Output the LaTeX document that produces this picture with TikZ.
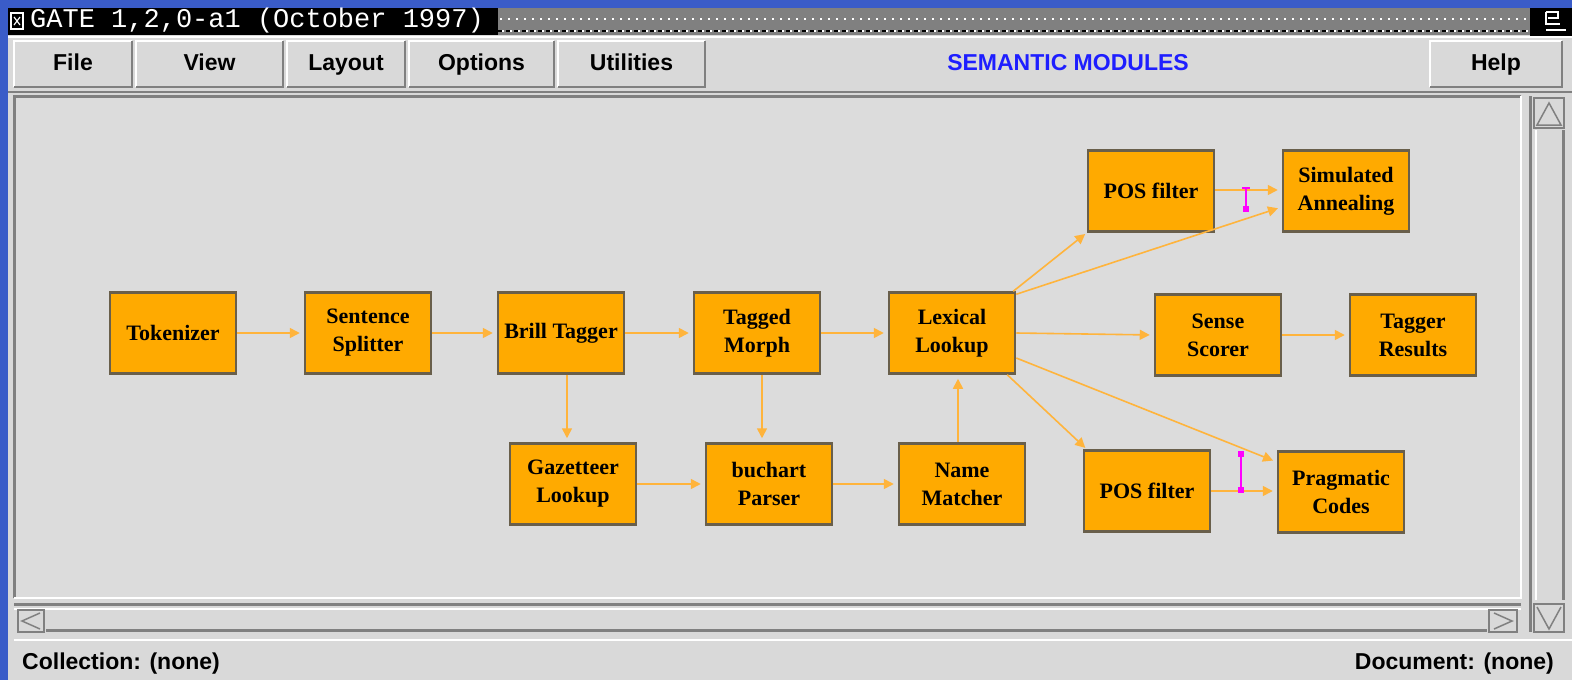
\documentclass[tikz,border=0pt]{standalone}
\usepackage{fontspec}
\setmainfont{Liberation Serif}
\setsansfont{Liberation Sans}
\setmonofont{Liberation Mono}
\usetikzlibrary{arrows.meta,calc}
\definecolor{bgblue}{RGB}{58,92,200}
\definecolor{chrome}{RGB}{217,217,217}
\definecolor{canvasbg}{RGB}{220,220,220}
\definecolor{modfill}{RGB}{255,170,0}
\definecolor{modline}{RGB}{105,95,75}
\definecolor{edgecol}{RGB}{255,180,60}
\definecolor{andcol}{RGB}{255,0,255}
\definecolor{shadowgray}{RGB}{128,128,128}
\definecolor{titleblue}{RGB}{30,30,255}
\begin{document}
\begin{tikzpicture}[x=1pt,y=-1pt,
  module/.style={draw=modline, line width=2.5pt, fill=modfill, minimum width=126pt,
    minimum height=81pt, inner sep=0pt, align=center,
    font=\bfseries\fontsize{22}{28}\selectfont},
  edge/.style={draw=edgecol, line width=1.6pt, -{Triangle[length=10pt,width=10pt]}, shorten >=4pt},
  menubtn/.style={fill=chrome, minimum height=46pt, inner sep=0pt, text height=17pt, text depth=5pt,
    font=\sffamily\bfseries\fontsize{23}{26}\selectfont},
  statustext/.style={inner sep=0pt, font=\sffamily\bfseries\fontsize{23}{26}\selectfont},
  andbar/.style={draw=andcol, line width=2pt},
]
\useasboundingbox (0,0) rectangle (1572,680);
\fill[bgblue] (0,0) rectangle (1572,680);
\fill[chrome] (8,34) rectangle (1572,680);

% title bar
\fill[black] (8,8) rectangle (498,35);
\fill[shadowgray] (498,8) rectangle (1530,35);
\draw[white, line width=2pt, dash pattern=on 2pt off 6pt] (500,19) -- (1528,19);
\draw[black, line width=2pt, dash pattern=on 4pt off 4pt] (498,31) -- (1528,31);
\draw[white, line width=2pt, dash pattern=on 2pt off 6pt] (502,31) -- (1528,31);
\fill[black] (1530,8) rectangle (1572,36);
\draw[white, line width=1.5pt] (11,13) rectangle (23,29);
\draw[white, line width=1.2pt] (14,17) -- (20,25) (20,17) -- (14,25);
\draw[white, line width=2pt] (1546,12) -- (1546,24) -- (1560,24) (1546,30) -- (1566,30) (1546,12) -- (1558,12) -- (1558,18) -- (1548,18);
\node[anchor=west, text=white, inner sep=0pt, font=\ttfamily\fontsize{27}{28}\selectfont] (title) at (30,21) {GATE 1,2,0-a1 (October 1997)};

% menu bar
\draw[shadowgray, line width=2pt] (8,92) -- (1572,92);
\draw[white, line width=1.5pt] (8,37) -- (1572,37);
\node[menubtn, minimum width=118pt] (file) at (73,64) {File};
\node[menubtn, minimum width=147pt] (view) at (209.5,64) {View};
\node[menubtn, minimum width=118pt] (layout) at (346,64) {Layout};
\node[menubtn, minimum width=145pt] (options) at (481.5,64) {Options};
\node[menubtn, minimum width=147pt] (utilities) at (631.5,64) {Utilities};
\node[menubtn, minimum width=132pt] (help) at (1496,64) {Help};
\foreach \b in {file,view,layout,options,utilities,help}{
  \draw[white, line width=2.5pt] (\b.south west) -- (\b.north west) -- (\b.north east);
  \draw[shadowgray, line width=2.5pt] (\b.north east) -- (\b.south east) -- (\b.south west);
}
\node[inner sep=0pt, text height=17pt, text depth=5pt, text=titleblue, font=\sffamily\bfseries\fontsize{23}{26}\selectfont] (heading) at (1068,64) {SEMANTIC MODULES};

% canvas
\fill[canvasbg] (14,96) rectangle (1521,598);
\draw[shadowgray, line width=3pt] (14,598) -- (14,96) -- (1521,96);
\draw[white, line width=2pt] (1521,96) -- (1521,598) -- (14,598);

% horizontal scrollbar
\draw[shadowgray, line width=3pt] (14,604) -- (1521,604);
\draw[white, line width=2pt] (14,609) -- (1521,609);
\draw[shadowgray, line width=3pt] (46,630) -- (1487,630);
\draw[white, line width=2pt] (14,640) -- (1572,640);
\draw[shadowgray, line width=1.5pt] (18,610) rectangle (44,632);
\draw[shadowgray, line width=1.5pt] (40,613) -- (22,621) -- (40,629);
\draw[shadowgray, line width=1.5pt] (1489,610) rectangle (1517,632);
\draw[shadowgray, line width=1.5pt] (1494,613) -- (1512,621) -- (1494,629);

% vertical scrollbar
\draw[shadowgray, line width=3pt] (1530,96) -- (1530,632);
\draw[white, line width=2pt] (1536,130) -- (1536,600);
\draw[shadowgray, line width=3pt] (1563,130) -- (1563,600);
\draw[shadowgray, line width=1.5pt] (1534,98) rectangle (1564,128);
\draw[shadowgray, line width=1.5pt] (1537,125) -- (1549,103) -- (1561,125) -- cycle;
\draw[shadowgray, line width=1.5pt] (1534,604) rectangle (1564,632);
\draw[shadowgray, line width=1.5pt] (1537,607) -- (1549,629) -- (1561,607);

% status bar
\node[statustext, anchor=west] (collection) at (22,664) {Collection: (none)};
\node[statustext, anchor=east] (document) at (1554,664) {Document: (none)};

% modules
\node[module] (tok) at (173,333) {Tokenizer};
\node[module] (sent) at (368,333) {Sentence\\Splitter};
\node[module] (brill) at (561,333) {Brill Tagger};
\node[module] (tagm) at (757,333) {Tagged\\Morph};
\node[module] (lex) at (952,333) {Lexical\\Lookup};
\node[module] (sense) at (1218,335) {Sense\\Scorer};
\node[module] (tres) at (1413,335) {Tagger\\Results};
\node[module] (posa) at (1151,191) {POS filter};
\node[module] (sim) at (1346,191) {Simulated\\Annealing};
\node[module] (gaz) at (573,484) {Gazetteer\\Lookup};
\node[module] (buch) at (769,484) {buchart\\Parser};
\node[module] (name) at (962,484) {Name\\Matcher};
\node[module] (posb) at (1147,491) {POS filter};
\node[module] (prag) at (1341,492) {Pragmatic\\Codes};

% connectors
\draw[edge] (tok) -- (sent);
\draw[edge] (sent) -- (brill);
\draw[edge] (brill) -- (tagm);
\draw[edge] (tagm) -- (lex);
\draw[edge] ([xshift=-6pt]gaz.north |- brill.south) -- ([xshift=-6pt]gaz.north);
\draw[edge] ([xshift=-7pt]buch.north |- tagm.south) -- ([xshift=-7pt]buch.north);
\draw[edge] (gaz.east) -- (buch.west);
\draw[edge] (buch.east) -- (name.west);
\draw[edge] ([xshift=-4pt]name.north) -- ([xshift=-4pt]name.north |- lex.south);
\draw[edge] (lex.east) -- (sense.west);
\draw[edge] (sense) -- (tres);
\draw[edge, shorten >=2pt] ([xshift=-3pt]lex.north east) -- (posa.south west);
\draw[edge] ([yshift=-3pt]lex.north east) -- ([yshift=-16pt]sim.west);
\draw[edge] ([yshift=1pt]posa.east) -- ([yshift=1pt]sim.west);
\draw[edge, shorten >=2pt] ([xshift=-9pt]lex.south east) -- ([xshift=4pt]posb.north west);
\draw[edge] ([yshift=-25pt]lex.east) -- ([yshift=30pt]prag.west);
\draw[edge] (posb.east) -- ([yshift=1pt]prag.west);

% AND markers
\coordinate (andat) at (1246,188);
\coordinate (andab) at (1246,209);
\draw[andbar] (andat) -- (andab);
\draw[andbar] ([xshift=-4pt]andat) -- ([xshift=4pt]andat);
\fill[andcol] ([xshift=-3pt,yshift=3pt]andab) rectangle ([xshift=3pt,yshift=-3pt]andab);
\coordinate (andbt) at (1241,454);
\coordinate (andbb) at (1241,490);
\draw[andbar] (andbt) -- (andbb);
\fill[andcol] ([xshift=-3pt,yshift=3pt]andbt) rectangle ([xshift=3pt,yshift=-3pt]andbt);
\fill[andcol] ([xshift=-3pt,yshift=3pt]andbb) rectangle ([xshift=3pt,yshift=-3pt]andbb);
\end{tikzpicture}
\end{document}
